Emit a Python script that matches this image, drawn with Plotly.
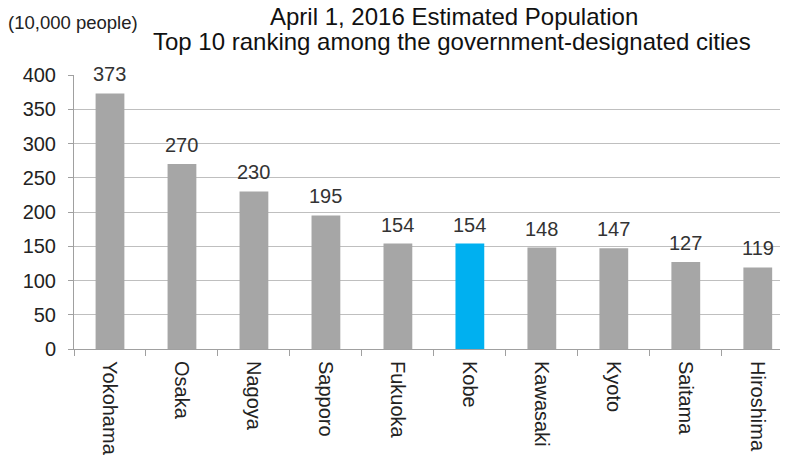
import plotly.graph_objects as go

cities = ["Yokohama", "Osaka", "Nagoya", "Sapporo", "Fukuoka", "Kobe",
          "Kawasaki", "Kyoto", "Saitama", "Hiroshima"]
population = [373, 270, 230, 195, 154, 154, 148, 147, 127, 119]
highlight = "Kobe"
title_lines = ["April 1, 2016 Estimated Population",
               "Top 10 ranking among the government-designated cities"]
unit_label = "(10,000 people)"

colors = ["#00B0F0" if c == highlight else "#A6A6A6" for c in cities]

font = "Liberation Sans, Arial, sans-serif"

# page body has an 8px default margin: build the figure 8px smaller and
# express target screen positions in figure coordinates.
OFF = 8
W, H = 788 - OFF, 465 - OFF
L, R, T, B = 74 - OFF, 0, 75 - OFF, 116
ph = H - T - B

def py(pix):
    return (H - B - (pix - OFF)) / ph

def px(pix):
    return ((pix - OFF) - L) / (W - L - R)

fig = go.Figure(go.Bar(
    x=cities, y=population, marker=dict(color=colors, line=dict(width=0)),
    width=0.4, cliponaxis=False, hoverinfo="x+y",
))

annotations = [
    dict(text=title_lines[0], xref="paper", yref="paper", x=px(454), y=py(17),
         xanchor="center", yanchor="middle", showarrow=False,
         font=dict(size=24, color="#111111", family=font)),
    dict(text=title_lines[1], xref="paper", yref="paper", x=px(452), y=py(41),
         xanchor="center", yanchor="middle", showarrow=False,
         font=dict(size=24, color="#111111", family=font)),
    dict(text=unit_label, xref="paper", yref="paper", x=px(6), y=py(22),
         xanchor="left", yanchor="middle", showarrow=False,
         font=dict(size=18.5, color="#222222", family=font)),
]
for c, v in zip(cities, population):
    annotations.append(dict(text=str(v), x=c, y=v, xref="x", yref="y",
                            xanchor="center", yanchor="bottom", yshift=6,
                            showarrow=False,
                            font=dict(size=20, color="#333333", family=font)))

fig.update_layout(
    width=W, height=H,
    margin=dict(l=L, r=R, t=T, b=B, autoexpand=False),
    paper_bgcolor="white", plot_bgcolor="white",
    font=dict(family=font, color="#222222"),
    showlegend=False,
    annotations=annotations,
)
fig.update_xaxes(range=[-0.5, 9.42], tickangle=90, tickson="boundaries",
                 ticks="outside", ticklen=6, tickcolor="#A0A0A0",
                 showline=True, linecolor="#A0A0A0", linewidth=1,
                 tickfont=dict(size=20, color="#222222", family=font),
                 ticklabelstandoff=7, automargin=False,
                 showgrid=False)
fig.update_yaxes(range=[0, 400], dtick=50, ticks="outside", ticklen=5,
                 tickcolor="#A0A0A0", showline=True, linecolor="#A0A0A0",
                 gridcolor="#BFBFBF", gridwidth=1, zeroline=False,
                 ticklabelstandoff=8, automargin=False,
                 tickfont=dict(size=20, color="#222222", family=font))

fig.write_html("out.html")
